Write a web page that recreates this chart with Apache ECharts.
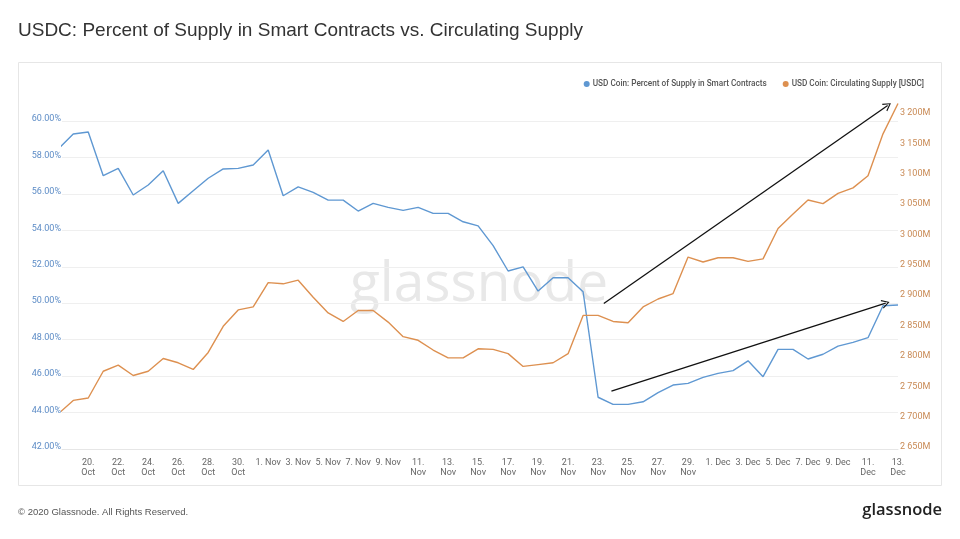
<!DOCTYPE html>
<html>
<head>
<meta charset="utf-8">
<script src="https://cdn.jsdelivr.net/npm/echarts@6/dist/echarts.min.js"></script>
<style>
html,body{margin:0;padding:0;background:#fff;}
#chart{width:960px;height:539px;}
</style>
</head>
<body>
<div id="chart"></div>
<script>
// Daily dates (index 0 = 18 Oct 2020)
const dates = [
  '2020-10-18','2020-10-19','2020-10-20','2020-10-21','2020-10-22','2020-10-23','2020-10-24','2020-10-25','2020-10-26','2020-10-27',
  '2020-10-28','2020-10-29','2020-10-30','2020-10-31','2020-11-01','2020-11-02','2020-11-03','2020-11-04','2020-11-05','2020-11-06',
  '2020-11-07','2020-11-08','2020-11-09','2020-11-10','2020-11-11','2020-11-12','2020-11-13','2020-11-14','2020-11-15','2020-11-16',
  '2020-11-17','2020-11-18','2020-11-19','2020-11-20','2020-11-21','2020-11-22','2020-11-23','2020-11-24','2020-11-25','2020-11-26',
  '2020-11-27','2020-11-28','2020-11-29','2020-11-30','2020-12-01','2020-12-02','2020-12-03','2020-12-04','2020-12-05','2020-12-06',
  '2020-12-07','2020-12-08','2020-12-09','2020-12-10','2020-12-11','2020-12-12','2020-12-13'
];

// Percent of supply in smart contracts (%)
const percentInContracts = [
  58.46, 59.29, 59.40, 57.00, 57.40, 55.94, 56.49, 57.27, 55.48, 56.17,
  56.86, 57.37, 57.40, 57.59, 58.41, 55.90, 56.39, 56.09, 55.66, 55.66,
  55.06, 55.48, 55.26, 55.10, 55.26, 54.93, 54.93, 54.47, 54.25, 53.16,
  51.77, 52.00, 50.67, 51.40, 51.40, 50.63, 44.84, 44.45, 44.45, 44.59,
  45.09, 45.51, 45.60, 45.93, 46.15, 46.30, 46.84, 45.97, 47.47, 47.47,
  46.94, 47.20, 47.65, 47.85, 48.11, 49.86, 49.90
];

// Circulating supply (millions USDC)
const circulatingSupply = [
  2708, 2730, 2734, 2778, 2788, 2771, 2778, 2799, 2792, 2781,
  2809, 2852, 2879, 2884, 2924, 2922, 2928, 2900, 2874, 2860,
  2878, 2878, 2859, 2835, 2829, 2813, 2800, 2800, 2815, 2814,
  2807, 2786, 2789, 2792, 2807, 2870, 2870, 2860, 2858, 2884,
  2897, 2906, 2966, 2958, 2965, 2965, 2959, 2963, 3013, 3037,
  3060, 3054, 3071, 3080, 3100, 3169, 3219
];

// X tick positions (day index) and their labels
const xTickValues = [2,4,6,8,10,12,14,16,18,20,22,24,26,28,30,32,34,36,38,40,42,44,46,48,50,52,54,56];
const xTickLabels = [
  '20.\nOct','22.\nOct','24.\nOct','26.\nOct','28.\nOct','30.\nOct',
  '1. Nov','3. Nov','5. Nov','7. Nov','9. Nov','11.\nNov','13.\nNov','15.\nNov','17.\nNov','19.\nNov',
  '21.\nNov','23.\nNov','25.\nNov','27.\nNov','29.\nNov',
  '1. Dec','3. Dec','5. Dec','7. Dec','9. Dec','11.\nDec','13.\nDec'
];

// Annotation arrows: [startDayIndex, startValue, endDayIndex, endValue]
const supplyTrendArrow = [36.38, 2889.6, 55.31, 3215.6];
const percentTrendArrow = [36.89, 45.18, 55.18, 50.0];

const seriesNames = ['USD Coin: Percent of Supply in Smart Contracts', 'USD Coin: Circulating Supply [USDC]'];

const blue = '#5f98d2';
const orange = '#dd9050';
const chevron = 'path://M0,10 L5,0 L10,10 L8.8,10.6 L5,2.6 L1.2,10.6 Z';

const chart = echarts.init(document.getElementById('chart'), null, {renderer: 'canvas'});

function fmtSupply(v) {
  const s = String(Math.round(v));
  return s.replace(/\B(?=(\d{3})+(?!\d))/g, ' ') + 'M';
}

const option = {
  animation: false,
  backgroundColor: '#ffffff',
  textStyle: {fontFamily: 'Roboto, "Liberation Sans", sans-serif'},
  graphic: [
    {type: 'rect', z: -10, shape: {x: 18.5, y: 62.5, width: 923, height: 423},
     style: {fill: '#ffffff', stroke: '#e6e6e6', lineWidth: 1}},
    {type: 'text', z: -5, left: 18, top: 21,
     style: {text: 'USDC: Percent of Supply in Smart Contracts vs. Circulating Supply',
             fill: '#333333', font: '19px "Liberation Sans", Arial, sans-serif'}},
    {type: 'text', z: -5, x: 479, y: 285,
     style: {text: 'glassnode', fill: '#e8e8e8', font: 'normal 55px "Open Sans", Roboto, sans-serif',
             align: 'center', verticalAlign: 'middle'}},
    {type: 'text', z: -5, left: 18, top: 507,
     style: {text: '\u00a9 2020 Glassnode. All Rights Reserved.', fill: '#555555',
             font: '9.5px "Liberation Sans", Arial, sans-serif'}},
    {type: 'text', z: -5, right: 18, top: 502,
     style: {text: 'glassnode', fill: '#222222', font: '600 16.5px "Open Sans", Roboto, sans-serif'}}
  ],
  legend: {
    top: 75, right: 31,
    icon: 'circle', itemWidth: 6, itemHeight: 6, itemGap: 16,
    textStyle: {fontSize: 8.2, color: '#555555', fontWeight: 500, fontFamily: 'Roboto, sans-serif', padding: [0,0,0,-2]},
    data: seriesNames
  },
  grid: {left: 62, right: 62, top: 100, bottom: 90, containLabel: false},
  xAxis: {
    type: 'value', min: 0.25, max: 56,
    axisLine: {show: true, lineStyle: {color: '#e6e6e6'}},
    axisTick: {show: false},
    splitLine: {show: false},
    axisLabel: {
      customValues: xTickValues,
      fontSize: 9, color: '#666666', lineHeight: 9.5, margin: 9,
      formatter: function (v) { const i = xTickValues.indexOf(Math.round(v)); return i >= 0 ? xTickLabels[i] : ''; }
    }
  },
  yAxis: [
    {
      type: 'value', min: 42, max: 61.155, interval: 2, position: 'left',
      axisLine: {show: false}, axisTick: {show: false},
      splitLine: {show: true, showMaxLine: false, lineStyle: {color: '#efefef', width: 1}},
      axisLabel: {showMaxLabel: false, fontSize: 9, color: '#5d8cc6', margin: 1,
                  verticalAlign: 'bottom', lineHeight: 4,
                  formatter: function (v) { return v.toFixed(2) + '%'; }}
    },
    {
      type: 'value', min: 2650, max: 3224.7, interval: 50, position: 'right',
      axisLine: {show: false}, axisTick: {show: false}, splitLine: {show: false},
      axisLabel: {showMaxLabel: false, fontSize: 9, color: '#c98a55', margin: 2,
                  verticalAlign: 'bottom', lineHeight: 4,
                  formatter: fmtSupply}
    }
  ],
  series: [
    {
      name: seriesNames[0], type: 'line', yAxisIndex: 0, symbol: 'none', smooth: false,
      itemStyle: {color: blue}, lineStyle: {color: blue, width: 1.4},
      data: percentInContracts.map((v, i) => [i, v]),
      markLine: {
        silent: true, symbol: ['none', chevron], symbolSize: [9, 8],
        label: {show: false},
        lineStyle: {color: '#111111', width: 1.3, type: 'solid'},
        data: [[{coord: [percentTrendArrow[0], percentTrendArrow[1]]}, {coord: [percentTrendArrow[2], percentTrendArrow[3]]}]]
      }
    },
    {
      name: seriesNames[1], type: 'line', yAxisIndex: 1, symbol: 'none', smooth: false,
      itemStyle: {color: orange}, lineStyle: {color: orange, width: 1.4},
      data: circulatingSupply.map((v, i) => [i, v]),
      markLine: {
        silent: true, symbol: ['none', chevron], symbolSize: [9, 8],
        label: {show: false},
        lineStyle: {color: '#111111', width: 1.3, type: 'solid'},
        data: [[{coord: [supplyTrendArrow[0], supplyTrendArrow[1]]}, {coord: [supplyTrendArrow[2], supplyTrendArrow[3]]}]]
      }
    }
  ]
};
chart.setOption(option);
</script>
</body>
</html>
